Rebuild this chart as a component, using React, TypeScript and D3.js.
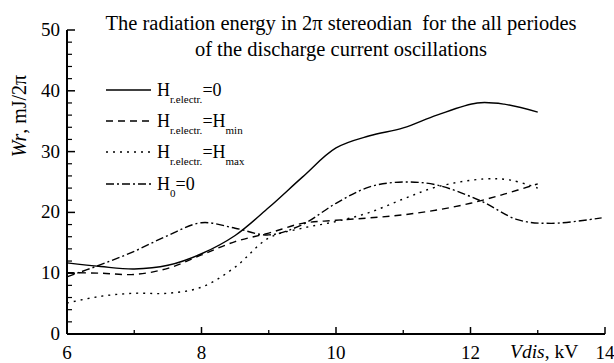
import React from "react";
import * as d3 from "d3";

const xTicksMajor = [6, 8, 10, 12, 14];
const xTicksMinor = [7, 9, 11, 13];
const yTicksMajor = [0, 10, 20, 30, 40, 50];
const yTicksMinor = [2, 4, 6, 8, 12, 14, 16, 18, 22, 24, 26, 28, 32, 34, 36, 38, 42, 44, 46, 48];

const solidX = [6, 6.5, 7, 7.5, 8, 8.5, 9, 9.5, 10, 10.5, 11, 11.5, 12.1, 12.5, 13];
const solidY = [11.7, 11.1, 10.7, 11.3, 13.2, 16.2, 20.8, 25.8, 30.6, 32.6, 33.9, 36.0, 38.0, 37.8, 36.5];

const dashedX = [6, 6.5, 7, 7.5, 8, 8.5, 9, 9.5, 10, 10.5, 11, 11.5, 12, 12.5, 13];
const dashedY = [10.1, 10.0, 9.8, 10.8, 13.0, 15.2, 16.6, 18.2, 18.7, 19.1, 19.6, 20.4, 21.5, 23.0, 24.7];

const dottedX = [6, 6.5, 7, 7.5, 8, 8.5, 9, 9.5, 10, 10.5, 11, 11.5, 12.2, 12.6, 13];
const dottedY = [5.1, 6.2, 6.7, 6.7, 7.7, 11.0, 15.8, 17.4, 18.5, 20.0, 22.2, 24.2, 25.5, 25.3, 24.0];

const dashdotX = [6, 6.5, 7, 7.5, 8, 8.5, 9, 9.5, 10, 10.5, 11, 11.5, 12.15, 12.7, 13.2, 13.95];
const dashdotY = [9.4, 11.4, 13.6, 16.2, 18.3, 17.4, 16.3, 18.0, 21.5, 24.2, 25.0, 24.5, 21.9, 18.8, 18.2, 19.1];

export default function App() {
  const W = 614, H = 363;
  const x = d3.scaleLinear().domain([6, 14]).range([67, 605]);
  const y = d3.scaleLinear().domain([0, 50]).range([334, 30]);
  const line = d3.line<[number, number]>()
    .x(d => x(d[0])).y(d => y(d[1]))
    .curve(d3.curveCatmullRom.alpha(0.5));
  const mk = (xs: number[], ys: number[]) => line(xs.map((v, i) => [v, ys[i]] as [number, number])) || "";
  const series = [
    { d: mk(solidX, solidY), dash: "" },
    { d: mk(dashedX, dashedY), dash: "7,5" },
    { d: mk(dottedX, dottedY), dash: "2,5" },
    { d: mk(dashdotX, dashdotY), dash: "8,3,2,3" },
  ];
  const font = "'Liberation Serif', 'Times New Roman', serif";
  const legendY = [90, 121, 152, 184];
  const lf = 18;
  const sf = 11;
  return (
    <svg width={W} height={H} style={{ position: "absolute", left: 0, top: 0, background: "#fff" }} fontFamily={font}>
      <rect width={W} height={H} fill="#fff" />
      {/* title */}
      <text x={341} y={30} textAnchor="middle" fontSize={20.5} style={{ whiteSpace: "pre" }}>The radiation energy in 2π stereodian  for the all periodes</text>
      <text x={341} y={56} textAnchor="middle" fontSize={20.5}>of the discharge current oscillations</text>
      {/* curves */}
      {series.map((s, i) => (
        <path key={i} d={s.d} fill="none" stroke="#000" strokeWidth={1.4} strokeDasharray={s.dash || undefined} />
      ))}
      {/* axes */}
      <line x1={x(6)} x2={x(14)} y1={y(0)} y2={y(0)} stroke="#000" strokeWidth={2} />
      <line x1={x(6)} x2={x(6)} y1={y(0)} y2={y(50)} stroke="#000" strokeWidth={2} />
      {xTicksMajor.map(t => (
        <line key={"xM" + t} x1={x(t)} x2={x(t)} y1={y(0)} y2={y(0) - 7} stroke="#000" strokeWidth={1.5} />
      ))}
      {xTicksMinor.map(t => (
        <line key={"xm" + t} x1={x(t)} x2={x(t)} y1={y(0)} y2={y(0) - 4} stroke="#000" strokeWidth={1.3} />
      ))}
      {yTicksMajor.map(t => (
        <line key={"yM" + t} x1={x(6)} x2={x(6) + 8} y1={y(t)} y2={y(t)} stroke="#000" strokeWidth={1.5} />
      ))}
      {yTicksMinor.map(t => (
        <line key={"ym" + t} x1={x(6)} x2={x(6) + 5} y1={y(t)} y2={y(t)} stroke="#000" strokeWidth={1.2} />
      ))}
      {xTicksMajor.map(t => (
        <text key={"xl" + t} x={x(t)} y={359} textAnchor="middle" fontSize={19}>{t}</text>
      ))}
      {yTicksMajor.map(t => (
        <text key={"yl" + t} x={60} y={y(t) + 6} textAnchor="end" fontSize={19}>{t}</text>
      ))}
      {/* axis labels */}
      <text x={510} y={358} fontSize={19.5}>
        <tspan fontStyle="italic">Vdis</tspan>, kV
      </text>
      <text transform="translate(26,116) rotate(-90)" textAnchor="middle" fontSize={20}>
        <tspan fontStyle="italic">Wr</tspan>, mJ/2π
      </text>
      {/* legend */}
      {series.map((s, i) => (
        <line key={"lg" + i} x1={106} x2={151} y1={legendY[i]} y2={legendY[i]} stroke="#000" strokeWidth={1.4} strokeDasharray={s.dash || undefined} />
      ))}
      <text x={157} y={legendY[0] + 6} fontSize={lf}>
        H<tspan fontSize={sf} dy={7}>r.electr.</tspan><tspan dy={-7}>=0</tspan>
      </text>
      <text x={157} y={legendY[1] + 6} fontSize={lf}>
        H<tspan fontSize={sf} dy={7}>r.electr.</tspan><tspan dy={-7}>=H</tspan><tspan fontSize={sf} dy={7}>min</tspan>
      </text>
      <text x={157} y={legendY[2] + 6} fontSize={lf}>
        H<tspan fontSize={sf} dy={7}>r.electr.</tspan><tspan dy={-7}>=H</tspan><tspan fontSize={sf} dy={7}>max</tspan>
      </text>
      <text x={157} y={legendY[3] + 6} fontSize={lf}>
        H<tspan fontSize={sf} dy={7}>0</tspan><tspan dy={-7}>=0</tspan>
      </text>
    </svg>
  );
}
